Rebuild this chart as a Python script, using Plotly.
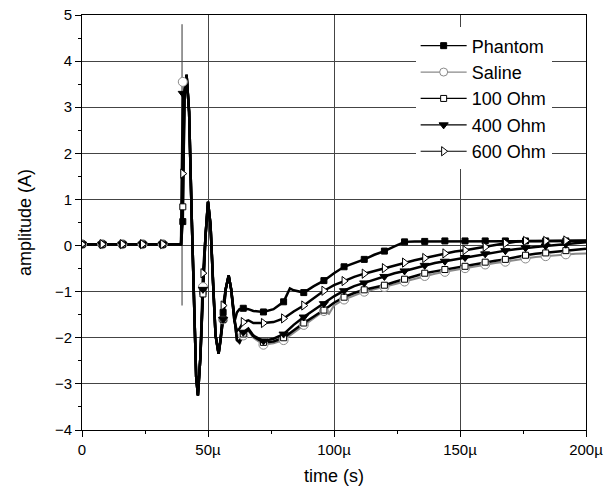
import numpy as np
import plotly.graph_objects as go

# time in microseconds
t_us = [0, 8, 16, 24, 32, 39.3, 40, 40.7, 41.5, 42.5, 43.5, 44.5, 45.3, 46, 47,
        48, 49, 50, 51, 52, 53, 54.2, 55, 56, 57, 58.2, 59.2, 60.5, 61.5, 62.5,
        64, 66, 68, 72, 76, 80, 82.5, 84, 88, 92, 96, 98, 100, 104, 108, 112, 116,
        120, 124, 128, 132, 136, 140, 144, 148, 152, 156, 160, 164, 168, 172, 176,
        180, 184, 188, 192, 196, 200]

phantom = [0.03, 0.03, 0.03, 0.03, 0.03, 0.03, 0.52, 3.3, 3.7, 2.9, 0.7, -1.6, -2.85, -3.25, -2.4,
           -1.0, 0.2, 0.95, 0.45, -0.8, -1.95, -2.35, -2.05, -1.45, -0.95, -0.65, -0.95, -1.65, -1.45, -1.38,
           -1.36, -1.38, -1.42, -1.44, -1.38, -1.22, -0.93, -0.97, -1.02, -0.88, -0.76, -0.68, -0.6, -0.46, -0.38, -0.3, -0.2,
           -0.12, -0.02, 0.08, 0.09, 0.09, 0.1, 0.1, 0.1, 0.1, 0.1, 0.1, 0.1, 0.1, 0.1, 0.1,
           0.1, 0.1, 0.1, 0.1, 0.1, 0.1]

saline = [0.03, 0.03, 0.03, 0.03, 0.03, 0.03, 3.55, 3.3, 3.7, 2.9, 0.7, -1.6, -2.85, -3.25, -2.4,
          -0.9, 0.2, 0.95, 0.45, -0.8, -1.95, -2.35, -2.05, -1.6, -0.95, -0.65, -0.95, -1.65, -2.05, -2.12,
          -1.95, -1.85, -2.0, -2.15, -2.12, -2.05, -1.95, -1.88, -1.72, -1.58, -1.42, -1.48, -1.3, -1.17, -1.08, -1.0, -0.95,
          -0.9, -0.84, -0.78, -0.72, -0.66, -0.61, -0.57, -0.53, -0.49, -0.45, -0.41, -0.38, -0.35, -0.31, -0.28,
          -0.25, -0.23, -0.21, -0.19, -0.18, -0.17]

ohm100 = [0.03, 0.03, 0.03, 0.03, 0.03, 0.03, 0.84, 3.3, 3.7, 2.9, 0.7, -1.6, -2.85, -3.25, -2.4,
          -1.05, 0.2, 0.95, 0.45, -0.8, -1.95, -2.35, -2.05, -1.6, -0.95, -0.65, -0.95, -1.65, -2.05, -2.1,
          -1.92, -1.82, -1.97, -2.1, -2.08, -2.0, -1.9, -1.83, -1.68, -1.54, -1.4, -1.32, -1.24, -1.12, -1.03, -0.96, -0.91,
          -0.86, -0.79, -0.73, -0.66, -0.6, -0.56, -0.52, -0.49, -0.45, -0.4, -0.36, -0.33, -0.3, -0.25, -0.21,
          -0.18, -0.16, -0.13, -0.11, -0.09, -0.07]

ohm400 = [0.03, 0.03, 0.03, 0.03, 0.03, 0.03, 3.3, 3.3, 3.7, 2.9, 0.7, -1.6, -2.85, -3.25, -2.4,
          -0.95, 0.2, 0.95, 0.45, -0.8, -1.95, -2.35, -2.05, -1.6, -0.95, -0.65, -0.95, -1.65, -2.05, -2.08,
          -1.88, -1.8, -1.95, -2.07, -2.02, -1.92, -1.8, -1.72, -1.55, -1.4, -1.26, -1.18, -1.1, -0.98, -0.88, -0.81, -0.74,
          -0.67, -0.6, -0.55, -0.49, -0.43, -0.38, -0.34, -0.3, -0.26, -0.22, -0.18, -0.14, -0.11, -0.08, -0.05,
          -0.03, -0.01, 0.01, 0.03, 0.05, 0.07]

ohm600 = [0.03, 0.03, 0.03, 0.03, 0.03, 0.03, 1.56, 3.3, 3.7, 2.9, 0.7, -1.6, -2.85, -3.25, -2.4,
          -0.6, 0.2, 0.95, 0.45, -0.8, -1.95, -2.35, -2.05, -1.3, -0.95, -0.65, -0.95, -1.65, -1.85, -1.8,
          -1.66, -1.62, -1.68, -1.68, -1.66, -1.58, -1.48, -1.43, -1.3, -1.14, -0.98, -0.92, -0.86, -0.77, -0.68, -0.61, -0.55,
          -0.49, -0.43, -0.37, -0.32, -0.27, -0.22, -0.17, -0.13, -0.1, -0.06, -0.03, 0.01, 0.05, 0.08, 0.1,
          0.1, 0.1, 0.11, 0.11, 0.11, 0.11]

series_names = ["Phantom", "Saline", "100 Ohm", "400 Ohm", "600 Ohm"]
series_values = [phantom, saline, ohm100, ohm400, ohm600]

# marker sample spacing (us) and trigger line
marker_step_us = 8
marker_last_us = 192
trigger_t_us = 39.7
trigger_y = [-1.3, 4.8]

x_ticks_us = [0, 50, 100, 150, 200]

styles = {
    "Phantom": dict(lc="black", lw=2.5, sym="square", ms=6, mc="black", mlc="black"),
    "Saline": dict(lc="#8a8a8a", lw=2.0, sym="circle", ms=9, mc="white", mlc="#8a8a8a"),
    "100 Ohm": dict(lc="black", lw=2.5, sym="square", ms=6, mc="white", mlc="black"),
    "400 Ohm": dict(lc="black", lw=2.5, sym="triangle-down", ms=8, mc="black", mlc="black"),
    "600 Ohm": dict(lc="black", lw=2.5, sym="triangle-right", ms=8, mc="white", mlc="black"),
}

t = np.array(t_us) * 1e-6
is_mark = np.isclose(np.mod(np.array(t_us), marker_step_us), 0) & (np.array(t_us) <= marker_last_us)

fig = go.Figure()

# legend entries
for name in series_names:
    s = styles[name]
    fig.add_trace(go.Scatter(
        x=[None], y=[None], mode="lines+markers", name=name,
        line=dict(color=s["lc"], width=1.2),
        marker=dict(symbol=s["sym"], size=s["ms"] if s["ms"] < 9 else 8, color=s["mc"],
                    line=dict(color=s["mlc"], width=1)),
    ))

draw_order = ["Saline", "Phantom", "100 Ohm", "400 Ohm", "600 Ohm"]
for name in draw_order:
    s = styles[name]
    y = np.array(series_values[series_names.index(name)])
    fig.add_trace(go.Scatter(
        x=t, y=y, mode="lines", showlegend=False,
        line=dict(color=s["lc"], width=s["lw"]),
    ))
for name in draw_order:
    s = styles[name]
    y = np.array(series_values[series_names.index(name)])
    fig.add_trace(go.Scatter(
        x=t[is_mark], y=y[is_mark], mode="markers", showlegend=False,
        marker=dict(symbol=s["sym"], size=s["ms"], color=s["mc"],
                    line=dict(color=s["mlc"], width=1)),
    ))

fig.add_shape(type="line", xref="x", yref="y",
              x0=trigger_t_us * 1e-6, x1=trigger_t_us * 1e-6,
              y0=trigger_y[0], y1=trigger_y[1],
              line=dict(color="#333333", width=1), layer="below")

font_family = "Liberation Sans, Arial, sans-serif"
fig.update_layout(
    width=605, height=493,
    margin=dict(l=82, r=19, t=15, b=63),
    paper_bgcolor="white", plot_bgcolor="white",
    font=dict(family=font_family, color="black", size=15),
    legend=dict(x=0.662, y=0.97, xanchor="left", yanchor="top",
                bgcolor="white", borderwidth=0, font=dict(size=18),
                tracegroupgap=0, itemwidth=46),
    xaxis=dict(range=[0, 200e-6], tickvals=[v * 1e-6 for v in x_ticks_us],
               ticktext=[("%dµ" % v) if v else "0" for v in x_ticks_us],
               automargin=False,
               showgrid=True, gridcolor="#444444", gridwidth=1,
               showline=True, linecolor="black", linewidth=1, mirror=True,
               ticks="outside", ticklen=6, tickcolor="black",
               minor=dict(ticks="outside", ticklen=3, dtick=25e-6, tick0=0, tickcolor="black"),
               zeroline=False,
               title=dict(text="time (s)", font=dict(size=18), standoff=12),
               tickfont=dict(size=15)),
    yaxis=dict(range=[-4, 5], dtick=1, tick0=0,
               automargin=False,
               showgrid=True, gridcolor="#444444", gridwidth=1,
               showline=True, linecolor="black", linewidth=1, mirror=True,
               ticks="outside", ticklen=6, tickcolor="black",
               minor=dict(ticks="outside", ticklen=3, dtick=0.5, tick0=0, tickcolor="black"),
               zeroline=False,
               title=dict(text="amplitude (A)", font=dict(size=18), standoff=18),
               tickfont=dict(size=15)),
)

fig.write_html("out.html")
